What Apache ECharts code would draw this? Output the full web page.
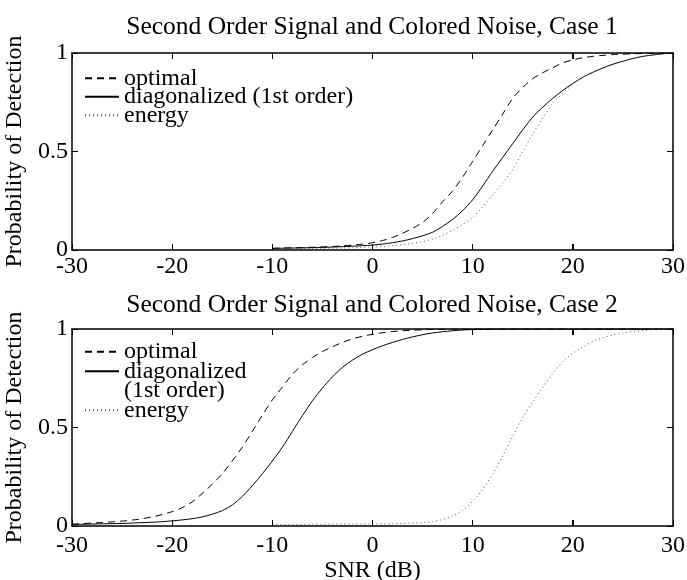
<!DOCTYPE html>
<html>
<head>
<meta charset="utf-8">
<script src="https://cdn.jsdelivr.net/npm/echarts@6/dist/echarts.min.js"></script>
<style>
  html, body { margin: 0; padding: 0; background: #fff; }
  #chart { width: 687px; height: 580px; }
</style>
</head>
<body>
<div id="chart"></div>
<script>
// SNR grids (dB)
const snrFromMinus10 = [-10, -9, -8, -7, -6, -5, -4, -3, -2, -1, 0, 1, 2, 3, 4, 5, 6, 7, 8, 9, 10,
  11, 12, 13, 14, 15, 16, 17, 18, 19, 20, 21, 22, 23, 24, 25, 26, 27, 28, 29, 30];
const snrFromMinus30 = [-30, -29, -28, -27, -26, -25, -24, -23, -22, -21, -20, -19, -18, -17, -16,
  -15, -14, -13, -12, -11, -10, -9, -8, -7, -6, -5, -4, -3, -2, -1, 0, 1, 2, 3, 4, 5, 6, 7, 8, 9,
  10, 11, 12, 13, 14, 15, 16, 17, 18, 19, 20, 21, 22, 23, 24, 25, 26, 27, 28, 29, 30];

// Case 1: probability of detection (SNR -10..30 dB)
const case1Optimal = [0.009, 0.010, 0.011, 0.012, 0.014, 0.016, 0.018, 0.021, 0.025, 0.030, 0.037,
  0.048, 0.064, 0.085, 0.110, 0.140, 0.185, 0.245, 0.300, 0.370, 0.450, 0.530, 0.610, 0.690, 0.770,
  0.825, 0.870, 0.900, 0.925, 0.950, 0.965, 0.976, 0.983, 0.988, 0.992, 0.994, 0.996, 0.997, 0.998,
  0.999, 1.000];
const case1Diagonalized = [0.008, 0.009, 0.010, 0.011, 0.012, 0.013, 0.015, 0.017, 0.019, 0.022,
  0.025, 0.030, 0.037, 0.046, 0.058, 0.072, 0.090, 0.120, 0.155, 0.200, 0.255, 0.325, 0.400, 0.470,
  0.540, 0.610, 0.675, 0.725, 0.770, 0.810, 0.845, 0.877, 0.902, 0.924, 0.943, 0.958, 0.972, 0.983,
  0.990, 0.996, 1.000];
const case1Energy = [0.006, 0.006, 0.007, 0.007, 0.008, 0.008, 0.009, 0.010, 0.011, 0.013, 0.015,
  0.018, 0.022, 0.027, 0.034, 0.043, 0.055, 0.075, 0.100, 0.130, 0.165, 0.220, 0.280, 0.340, 0.410,
  0.500, 0.590, 0.670, 0.745, 0.795, 0.842, 0.877, 0.902, 0.924, 0.943, 0.958, 0.972, 0.983, 0.990,
  0.996, 1.000];

// Case 2: probability of detection
const case2Optimal = [0.010, 0.012, 0.015, 0.018, 0.021, 0.025, 0.030, 0.037, 0.046, 0.058, 0.073,
  0.093, 0.122, 0.165, 0.212, 0.265, 0.330, 0.400, 0.480, 0.562, 0.640, 0.705, 0.770, 0.818, 0.855,
  0.885, 0.910, 0.932, 0.950, 0.963, 0.973, 0.981, 0.987, 0.991, 0.994, 0.996, 0.998, 0.999, 1.000,
  1.000, 1.000, 1.000, 1.000, 1.000, 1.000, 1.000, 1.000, 1.000, 1.000, 1.000, 1.000, 1.000, 1.000,
  1.000, 1.000, 1.000, 1.000, 1.000, 1.000, 1.000, 1.000];
const case2Diagonalized = [0.008, 0.009, 0.010, 0.011, 0.012, 0.013, 0.015, 0.017, 0.019, 0.022,
  0.026, 0.031, 0.037, 0.046, 0.060, 0.078, 0.107, 0.150, 0.205, 0.265, 0.330, 0.400, 0.480, 0.560,
  0.635, 0.700, 0.757, 0.805, 0.842, 0.872, 0.895, 0.915, 0.932, 0.947, 0.960, 0.971, 0.980, 0.986,
  0.991, 0.995, 0.997, 0.998, 0.999, 1.000, 1.000, 1.000, 1.000, 1.000, 1.000, 1.000, 1.000, 1.000,
  1.000, 1.000, 1.000, 1.000, 1.000, 1.000, 1.000, 1.000, 1.000];
const case2Energy = [0.008, 0.008, 0.008, 0.008, 0.009, 0.009, 0.009, 0.010, 0.010, 0.010, 0.011,
  0.011, 0.012, 0.013, 0.015, 0.017, 0.022, 0.033, 0.050, 0.080, 0.125, 0.185, 0.265, 0.355, 0.455,
  0.550, 0.630, 0.705, 0.775, 0.835, 0.877, 0.908, 0.937, 0.956, 0.970, 0.980, 0.987, 0.992, 0.996,
  0.998, 1.000];

const xTicks = [-30, -20, -10, 0, 10, 20, 30];
const yTicks = [0, 0.5, 1];

const titles = ['Second Order Signal and Colored Noise, Case 1',
                'Second Order Signal and Colored Noise, Case 2'];
const names = { optimal: 'optimal', diag: 'diagonalized (1st order)', energy: 'energy' };

const FONT = 'Liberation Serif';
const INK = '#000';
const TICK_LEN = 6;

const styles = {
  optimal: { color: INK, width: 1, type: [7, 5] },
  diag: { color: INK, width: 1, type: 'solid' },
  energy: { color: '#555', width: 1, type: [1, 3] }
};

const zip = (xs, ys) => xs.map((x, i) => [x, ys[i]]);
const crisp = v => Math.round(v - 0.5) + 0.5;

const grids = [
  { left: 72, top: 53, width: 601, height: 197 },
  { left: 72, top: 329, width: 601, height: 197 }
];

const xMin = xTicks[0], xMax = xTicks[xTicks.length - 1];
const yMin = yTicks[0], yMax = yTicks[yTicks.length - 1];
// tick length expressed in axis units (6 px on a 601 x 197 px box)
const TICK_DX = (xMax - xMin) * TICK_LEN / grids[0].width;
const TICK_DY = (yMax - yMin) * TICK_LEN / grids[0].height;

function xAxis(gridIndex, position, labels, labelMargin, extra) {
  return Object.assign({
    type: 'value', gridIndex, position,
    min: xMin, max: xMax, interval: 10,
    axisLine: { show: true, onZero: false, lineStyle: { color: INK, width: 1.5 } },
    axisTick: { show: true, inside: true, length: TICK_LEN, lineStyle: { color: INK, width: 1 } },
    axisLabel: { show: labels, color: INK, fontFamily: FONT, fontSize: 24, margin: labelMargin },
    splitLine: { show: false }
  }, extra || {});
}

function yAxis(gridIndex, position, labels, extra) {
  return Object.assign({
    type: 'value', gridIndex, position,
    min: yMin, max: yMax, interval: 0.5,
    axisLine: { show: true, onZero: false, lineStyle: { color: INK, width: 1.5 } },
    axisTick: { show: true, inside: true, length: TICK_LEN, lineStyle: { color: INK, width: 1 } },
    axisLabel: { show: labels, color: INK, fontFamily: FONT, fontSize: 24, margin: 4 },
    splitLine: { show: false }
  }, extra || {});
}

const yName = {
  name: 'Probability of Detection', nameLocation: 'middle', nameGap: 35,
  nameTextStyle: { color: INK, fontFamily: FONT, fontSize: 24 }
};
const xName = {
  name: 'SNR (dB)', nameLocation: 'middle', nameGap: 30,
  nameTextStyle: { color: INK, fontFamily: FONT, fontSize: 24 }
};

// Inward tick marks on all four box edges, as short mark lines in axis units.
function boxTickLines() {
  const data = [];
  xTicks.forEach(v => {
    data.push([{ coord: [v, yMin] }, { coord: [v, yMin + TICK_DY] }]);
    data.push([{ coord: [v, yMax] }, { coord: [v, yMax - TICK_DY] }]);
  });
  yTicks.forEach(v => {
    data.push([{ coord: [xMin, v] }, { coord: [xMin + TICK_DX, v] }]);
    data.push([{ coord: [xMax, v] }, { coord: [xMax - TICK_DX, v] }]);
  });
  return {
    silent: true, symbol: ['none', 'none'], animation: false,
    label: { show: false }, emphasis: { disabled: true },
    lineStyle: { color: INK, width: 1, type: 'solid', opacity: 1 },
    data
  };
}

function series(name, xs, ys, key, axisIndex, withTicks) {
  const s = {
    type: 'line', name, data: zip(xs, ys),
    xAxisIndex: axisIndex, yAxisIndex: axisIndex,
    symbol: 'none', showSymbol: false, smooth: 0.3,
    lineStyle: styles[key], itemStyle: { color: styles[key].color },
    silent: true, z: 3
  };
  if (withTicks) s.markLine = boxTickLines();
  return s;
}

// Same inward ticks drawn through a custom series on the axis scales.
function boxTicks(axisIndex) {
  const data = xTicks.map(v => [v, yMin, 0]).concat(yTicks.map(v => [xMin, v, 1]));
  const tick = (x1, y1, x2, y2) => ({
    type: 'line', shape: { x1, y1, x2, y2 }, style: { stroke: INK, lineWidth: 1 }
  });
  return {
    type: 'custom', name: 'ticks', xAxisIndex: axisIndex, yAxisIndex: axisIndex,
    silent: true, clip: false, z: 4, data,
    renderItem(params, api) {
      if (api.value(2) === 0) {
        const bottom = api.coord([api.value(0), yMin]);
        const top = api.coord([api.value(0), yMax]);
        const x = crisp(bottom[0]);
        return { type: 'group', children: [
          tick(x, bottom[1], x, bottom[1] - TICK_LEN),
          tick(x, top[1], x, top[1] + TICK_LEN)
        ] };
      }
      const left = api.coord([xMin, api.value(1)]);
      const right = api.coord([xMax, api.value(1)]);
      const y = crisp(left[1]);
      return { type: 'group', children: [
        tick(left[0], y, left[0] + TICK_LEN, y),
        tick(right[0], y, right[0] - TICK_LEN, y)
      ] };
    }
  };
}

function legendRow(name, top, label) {
  return {
    data: [name], orient: 'vertical', left: 84, top, padding: 0,
    itemWidth: 34, itemHeight: 10, itemGap: 0, selectedMode: false,
    formatter: () => label,
    itemStyle: { color: 'transparent', borderColor: 'transparent', borderWidth: 0, opacity: 0 },
    textStyle: { fontFamily: FONT, fontSize: 24, color: INK, lineHeight: 19.5 }
  };
}

const titleStyle = { fontFamily: FONT, fontSize: 25.5, fontWeight: 'normal', color: INK };

const option = {
  animation: false,
  backgroundColor: '#fff',
  title: [
    { text: titles[0], left: 372, top: 14, textAlign: 'center', padding: 0, textStyle: titleStyle },
    { text: titles[1], left: 372, top: 292, textAlign: 'center', padding: 0, textStyle: titleStyle }
  ],
  grid: grids.map(g => Object.assign({ outerBoundsMode: 'none', containLabel: false }, g)),
  xAxis: [
    xAxis(0, 'bottom', true, 5),
    xAxis(0, 'top', false, 5),
    xAxis(1, 'bottom', true, 8, xName),
    xAxis(1, 'top', false, 5)
  ],
  yAxis: [
    yAxis(0, 'left', true, yName),
    yAxis(0, 'right', false),
    yAxis(1, 'left', true, yName),
    yAxis(1, 'right', false)
  ],
  legend: [
    legendRow(names.optimal, 66.25, 'optimal'),
    legendRow(names.diag, 84.75, 'diagonalized (1st order)'),
    legendRow(names.energy, 103.25, 'energy'),
    legendRow(names.optimal, 339.75, 'optimal'),
    // leading blank line keeps the sample line level with the first text line
    legendRow(names.diag, 339.75, ' \ndiagonalized\n(1st order)'),
    legendRow(names.energy, 398.25, 'energy')
  ],
  series: [
    series(names.optimal, snrFromMinus10, case1Optimal, 'optimal', 0),
    series(names.diag, snrFromMinus10, case1Diagonalized, 'diag', 0, true),
    series(names.energy, snrFromMinus10, case1Energy, 'energy', 0),
    series(names.optimal, snrFromMinus30, case2Optimal, 'optimal', 2),
    series(names.diag, snrFromMinus30, case2Diagonalized, 'diag', 2, true),
    series(names.energy, snrFromMinus10, case2Energy, 'energy', 2),
    boxTicks(0),
    boxTicks(2)
  ]
};

const chart = echarts.init(document.getElementById('chart'), null, { renderer: 'canvas' });
chart.setOption(option);
</script>
</body>
</html>
